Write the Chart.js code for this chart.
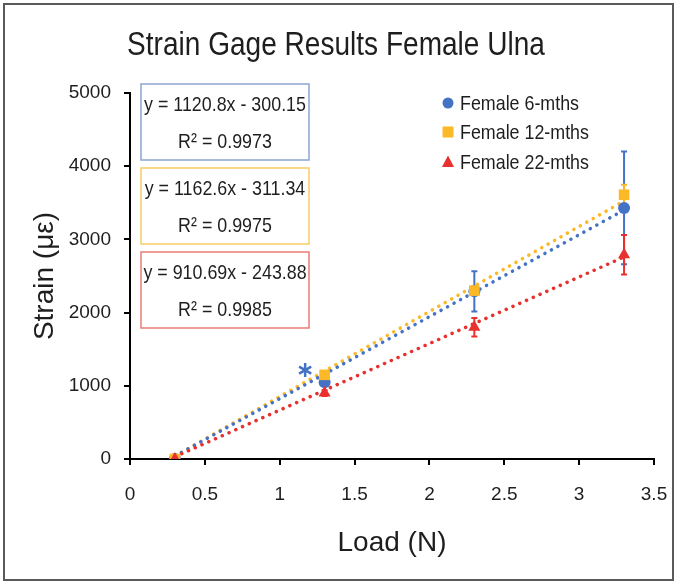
<!DOCTYPE html>
<html>
<head>
<meta charset="utf-8">
<script src="https://cdn.jsdelivr.net/npm/chart.js@4.4.1/dist/chart.umd.min.js"></script>
<style>
  html, body { margin: 0; padding: 0; background: #fff; }
  canvas { display: block; }
</style>
</head>
<body>
<canvas id="strainChart" width="676" height="582"></canvas>
<script>
// loads applied (N)
const loads = [0.3, 1.3, 2.3, 3.3];

// mean strain per age group
const strain6 = [0, 1050, 2290, 3430];
const strain12 = [0, 1150, 2300, 3610];
const strain22 = [0, 900, 1800, 2790];

// error bar half-lengths
const err6 = [0, 40, 275, 770];
const err12 = [0, 40, 60, 135];
const err22 = [0, 40, 125, 270];

// trendline end points (x = 0.3 and x = 3.3)
const trendX = [0.3, 3.3];
const trend6 = [40, 3400];
const trend12 = [40, 3525];
const trend22 = [30, 2760];

const seriesNames = ['Female 6-mths', 'Female 12-mths', 'Female 22-mths'];
const equations = ['y = 1120.8x - 300.15', 'y = 1162.6x - 311.34', 'y = 910.69x - 243.88'];
const rSquared = ['R² = 0.9973', 'R² = 0.9975', 'R² = 0.9985'];

// significance marker
const starPoint = [1.17, 1215];

const xTicks = [0, 0.5, 1, 1.5, 2, 2.5, 3, 3.5];
const xTickLabels = ['0', '0.5', '1', '1.5', '2', '2.5', '3', '3.5'];
const yTicks = [0, 1000, 2000, 3000, 4000, 5000];
const yTickLabels = ['0', '1000', '2000', '3000', '4000', '5000'];

const BLUE = '#4472c4';
const ORANGE = '#fbb827';
const RED = '#e8302e';
const FONT = "'Liberation Sans', Arial, sans-serif";
const TEXT = '#1e1e1e';
const SQUEEZE = 0.85; // the figure's lettering is a narrow face

const toPoints = (xs, ys) => xs.map((x, i) => ({ x: x, y: ys[i] }));

const groups = [
    { vals: strain6, err: err6, color: BLUE },
    { vals: strain12, err: err12, color: ORANGE },
    { vals: strain22, err: err22, color: RED }
];

// draw text horizontally condensed around its anchor
function narrowText(ctx, str, x, y) {
    ctx.save();
    ctx.translate(x, y);
    ctx.scale(SQUEEZE, 1);
    ctx.fillText(str, 0, 0);
    ctx.restore();
}

// vertical error bars with small caps, under the markers
const errorBars = {
    id: 'errorBars',
    beforeDatasetsDraw(chart) {
        const { ctx, scales: { x, y } } = chart;
        groups.forEach(g => {
            ctx.save();
            ctx.strokeStyle = g.color;
            ctx.lineWidth = 2;
            loads.forEach((l, i) => {
                if (!g.err[i]) return;
                const px = x.getPixelForValue(l);
                const top = y.getPixelForValue(g.vals[i] + g.err[i]);
                const bot = y.getPixelForValue(g.vals[i] - g.err[i]);
                ctx.beginPath();
                ctx.moveTo(px, top); ctx.lineTo(px, bot);
                ctx.moveTo(px - 3, top); ctx.lineTo(px + 3, top);
                ctx.moveTo(px - 3, bot); ctx.lineTo(px + 3, bot);
                ctx.stroke();
            });
            ctx.restore();
        });
    }
};

// frame, title, equation boxes, legend and the asterisk
const decorations = {
    id: 'decorations',
    afterDraw(chart) {
        const { ctx, scales: { x, y } } = chart;
        ctx.save();

        // outer frame
        ctx.strokeStyle = '#5a5a5a';
        ctx.lineWidth = 2;
        ctx.strokeRect(4, 4, 669, 576);

        // title
        ctx.fillStyle = TEXT;
        ctx.textAlign = 'center';
        ctx.textBaseline = 'middle';
        ctx.font = '33px ' + FONT;
        narrowText(ctx, 'Strain Gage Results Female Ulna', 336, 46);

        // trendline equation boxes
        const boxColors = ['#8ca5d2', '#f8cd63', '#ea7d76'];
        const boxTops = [84, 168, 252];
        ctx.font = '21px ' + FONT;
        boxTops.forEach((top, i) => {
            ctx.fillStyle = '#fff';
            ctx.fillRect(141, top, 168, 76);
            ctx.strokeStyle = boxColors[i];
            ctx.lineWidth = 1.5;
            ctx.strokeRect(141, top, 168, 76);
            ctx.fillStyle = TEXT;
            narrowText(ctx, equations[i], 225, top + 21);
            narrowText(ctx, rSquared[i], 225, top + 58);
        });

        // legend
        const legY = [103, 132, 162];
        ctx.textAlign = 'left';
        seriesNames.forEach((name, i) => {
            const cx = 448, cy = legY[i];
            ctx.fillStyle = groups[i].color;
            ctx.beginPath();
            if (i === 0) {
                ctx.arc(cx, cy, 5.5, 0, Math.PI * 2);
            } else if (i === 1) {
                ctx.rect(cx - 5.5, cy - 5.5, 11, 11);
            } else {
                ctx.moveTo(cx, cy - 6.5);
                ctx.lineTo(cx + 6, cy + 5);
                ctx.lineTo(cx - 6, cy + 5);
                ctx.closePath();
            }
            ctx.fill();
            ctx.fillStyle = TEXT;
            narrowText(ctx, name, 460, cy + 1);
        });

        // significance asterisk
        const sx = x.getPixelForValue(starPoint[0]);
        const sy = y.getPixelForValue(starPoint[1]);
        ctx.strokeStyle = BLUE;
        ctx.lineWidth = 2.5;
        ctx.beginPath();
        for (let k = 0; k < 3; k++) {
            const a = Math.PI / 2 + k * Math.PI / 3;
            ctx.moveTo(sx - 7 * Math.cos(a), sy - 7 * Math.sin(a));
            ctx.lineTo(sx + 7 * Math.cos(a), sy + 7 * Math.sin(a));
        }
        ctx.stroke();

        ctx.restore();
    }
};

const trendStyle = {
    type: 'line',
    borderWidth: 3.5,
    borderDash: [0.1, 7.3],
    borderCapStyle: 'round',
    pointRadius: 0,
    fill: false,
    tension: 0
};

const ctx = document.getElementById('strainChart').getContext('2d');

new Chart(ctx, {
    type: 'scatter',
    data: {
        datasets: [
            {
                label: seriesNames[2],
                data: toPoints(loads, strain22),
                pointStyle: 'triangle',
                pointRadius: 7,
                backgroundColor: RED,
                borderColor: RED,
                borderWidth: 0
            },
            {
                label: seriesNames[1],
                data: toPoints(loads, strain12),
                pointStyle: 'rect',
                pointRadius: 7.5,
                backgroundColor: ORANGE,
                borderColor: ORANGE,
                borderWidth: 0
            },
            {
                label: seriesNames[0],
                data: toPoints(loads, strain6),
                pointStyle: 'circle',
                pointRadius: 6,
                backgroundColor: BLUE,
                borderColor: BLUE,
                borderWidth: 0
            },
            Object.assign({ label: 'Trend 22', data: toPoints(trendX, trend22), borderColor: RED }, trendStyle),
            Object.assign({ label: 'Trend 6', data: toPoints(trendX, trend6), borderColor: BLUE }, trendStyle),
            Object.assign({ label: 'Trend 12', data: toPoints(trendX, trend12), borderColor: ORANGE }, trendStyle)
        ]
    },
    options: {
        responsive: false,
        animation: false,
        layout: { padding: { top: 93, right: 22, bottom: 0, left: 0 } },
        plugins: {
            legend: { display: false },
            title: { display: false },
            tooltip: { enabled: false }
        },
        scales: {
            x: {
                type: 'linear',
                min: 0,
                max: 3.5,
                afterBuildTicks: s => { s.ticks = xTicks.map(v => ({ value: v })); },
                afterFit: s => {
                    s.height = 123;
                    s.paddingLeft = 0;
                    s.paddingRight = 0;
                },
                grid: { drawOnChartArea: false, color: '#000', lineWidth: 2, tickLength: 6 },
                border: { color: '#000', width: 2 },
                ticks: {
                    color: TEXT,
                    padding: 18,
                    maxRotation: 0,
                    font: { family: FONT, size: 19 },
                    callback: (v, i) => xTickLabels[i]
                },
                title: {
                    display: true,
                    text: 'Load (N)',
                    color: TEXT,
                    font: { family: FONT, size: 28, lineHeight: 1 },
                    padding: { top: 0, bottom: 25 }
                }
            },
            y: {
                type: 'linear',
                min: 0,
                max: 5000,
                afterBuildTicks: s => { s.ticks = yTicks.map(v => ({ value: v })); },
                afterFit: s => { s.width = 130; },
                grid: { drawOnChartArea: false, color: '#000', lineWidth: 2, tickLength: 6 },
                border: { color: '#000', width: 2 },
                ticks: {
                    color: TEXT,
                    padding: 13,
                    font: { family: FONT, size: 19 },
                    callback: (v, i) => yTickLabels[i]
                },
                title: {
                    display: true,
                    text: 'Strain (με)',
                    color: TEXT,
                    font: { family: FONT, size: 28, lineHeight: 1 },
                    padding: { top: 31, bottom: 0 }
                }
            }
        }
    },
    plugins: [errorBars, decorations]
});
</script>
</body>
</html>
